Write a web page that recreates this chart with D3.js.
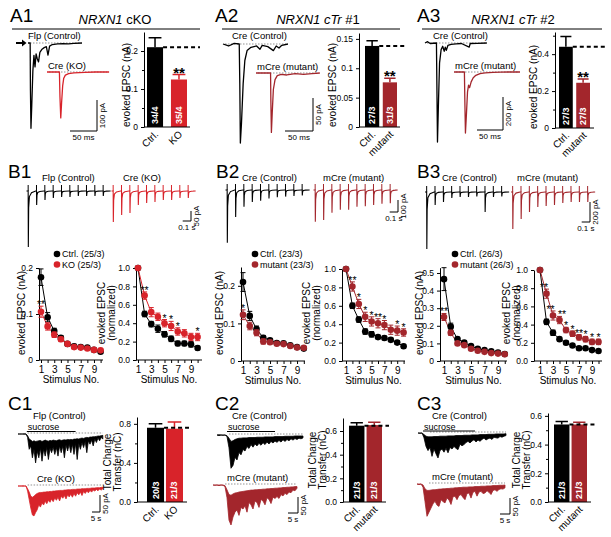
<!DOCTYPE html>
<html>
<head>
<meta charset="utf-8">
<script src="https://cdn.jsdelivr.net/npm/d3@7/dist/d3.min.js"></script>
<style>
  body { margin: 0; background: #fff; }
  svg { font-family: "Liberation Sans", Arial, sans-serif; }
</style>
</head>
<body>
<div id="chart"></div>
<script>
const KO_RED = "#d8232a", MUT_RED = "#a3262c";

// ---- A: single evoked EPSCs, [time ms, current pA]
const a1CtrlTrace = [[0,0],[4,0],[4.5,-150],[5.5,-275],[7,-200],[9,-90],[11,-40],[13,-77],[15,-35],[17,-50],[19.5,-61],[22,-30],[26,-20],[30,-15],[34,-12],[37,-39],[40,-10],[45,-5],[55,-3],[65,-2],[75,-3],[85,-1],[100,0]];
const a1KoTrace = [[0,0],[23,0],[24,-80],[25.5,-148],[27,-100],[29,-45],[31,-20],[34,-10],[40,-5],[50,-3],[70,-1],[90,0],[115,0]];
const a2CtrlTrace = [[0,0],[10,-3],[20,1],[29,0],[30,-60],[31,-150],[33,-120],[36,-60],[39,-25],[43,-10],[50,-5],[60,-3],[66,-8],[70,-2],[80,-4],[90,-10],[95,-3],[100,-6],[105,-2],[116,0]];
const a2MutTrace = [[0,0],[26,0],[26.5,-40],[27.5,-90],[29,-60],[31,-25],[34,-10],[38,-4],[45,-2],[55,-3],[70,-1],[85,-2],[100,-1],[114,0]];
const a3CtrlTrace = [[0,0],[5,8],[10,-3],[22,0],[23,-300],[24,-600],[26,-350],[28,-120],[31,-40],[34,-20],[37,-50],[39,-25],[41,-45],[44,-15],[50,-8],[60,-5],[70,-3],[85,-25],[87,-3],[100,-2],[119,0]];
const a3MutTrace = [[0,0],[20,0],[21,-200],[22,-370],[24,-250],[26,-120],[28,-80],[30,-95],[33,-60],[37,-35],[42,-20],[50,-10],[60,-5],[75,-2],[90,-1],[105,0],[127,0]];

// ---- A: evoked EPSC amplitude (nA)
const a1Groups = ["Ctrl.", "KO"],     a1Means = [0.21, 0.125],  a1Sem = [0.025, 0.013], a1N = ["34/4", "35/4"];
const a2Groups = ["Ctrl.", "mutant"], a2Means = [0.138, 0.076], a2Sem = [0.009, 0.007], a2N = ["27/3", "31/3"];
const a3Groups = ["Ctrl.", "mutant"], a3Means = [0.44, 0.245],  a3Sem = [0.055, 0.02],  a3N = ["27/3", "27/3"];

// ---- B: 10 Hz trains, EPSC amplitude per stimulus (pA)
const b1CtrlAmp = [280, 70, 45, 35, 30, 30, 25, 25, 25, 25];
const b1KoAmp   = [155, 120, 110, 70, 60, 55, 45, 45, 35, 35];
const b2CtrlAmp = [440, 225, 140, 100, 90, 70, 60, 55, 50, 45];
const b2MutAmp  = [265, 250, 190, 165, 165, 140, 135, 125, 115, 110];
const b3CtrlAmp = [570, 130, 100, 60, 50, 50, 45, 200, 50, 45];
const b3MutAmp  = [370, 270, 200, 150, 140, 130, 110, 100, 100, 100];

// ---- B: summary per stimulus number
const stimNo = [1, 2, 3, 4, 5, 6, 7, 8, 9, 10];
const b1Ctrl     = [0.18, 0.093, 0.063, 0.048, 0.035, 0.03, 0.028, 0.027, 0.022, 0.018];
const b1CtrlSem  = [0.018, 0.01, 0.006, 0.005, 0.004, 0.004, 0.004, 0.003, 0.003, 0.003];
const b1Ko       = [0.105, 0.073, 0.055, 0.045, 0.035, 0.028, 0.027, 0.025, 0.022, 0.021];
const b1KoSem    = [0.012, 0.008, 0.006, 0.005, 0.004, 0.004, 0.003, 0.003, 0.003, 0.003];
const b1CtrlN    = [1.0, 0.5, 0.39, 0.34, 0.28, 0.23, 0.18, 0.18, 0.17, 0.13];
const b1CtrlNSem = [0, 0.03, 0.03, 0.04, 0.03, 0.03, 0.025, 0.025, 0.03, 0.02];
const b1KoN      = [1.0, 0.70, 0.52, 0.47, 0.40, 0.37, 0.31, 0.29, 0.25, 0.25];
const b1KoNSem   = [0, 0.04, 0.05, 0.04, 0.04, 0.05, 0.04, 0.04, 0.04, 0.04];

const b2Ctrl     = [0.21, 0.12, 0.085, 0.062, 0.055, 0.048, 0.047, 0.042, 0.037, 0.033];
const b2CtrlSem  = [0.025, 0.012, 0.008, 0.006, 0.005, 0.004, 0.004, 0.004, 0.003, 0.003];
const b2Mut      = [0.123, 0.093, 0.075, 0.052, 0.05, 0.046, 0.045, 0.04, 0.036, 0.035];
const b2MutSem   = [0.013, 0.01, 0.008, 0.007, 0.005, 0.004, 0.004, 0.003, 0.003, 0.003];
const b2CtrlN    = [1.0, 0.6, 0.45, 0.32, 0.29, 0.26, 0.25, 0.23, 0.2, 0.16];
const b2CtrlNSem = [0, 0.03, 0.03, 0.03, 0.03, 0.02, 0.02, 0.02, 0.02, 0.02];
const b2MutN     = [1.0, 0.81, 0.62, 0.48, 0.43, 0.41, 0.39, 0.34, 0.33, 0.31];
const b2MutNSem  = [0, 0.05, 0.05, 0.05, 0.05, 0.05, 0.05, 0.05, 0.05, 0.04];

const b3Ctrl     = [0.465, 0.195, 0.125, 0.105, 0.085, 0.07, 0.062, 0.055, 0.048, 0.04];
const b3CtrlSem  = [0.065, 0.02, 0.01, 0.008, 0.006, 0.005, 0.005, 0.005, 0.004, 0.004];
const b3Mut      = [0.25, 0.16, 0.1, 0.09, 0.07, 0.058, 0.052, 0.045, 0.042, 0.038];
const b3MutSem   = [0.02, 0.015, 0.01, 0.008, 0.007, 0.006, 0.005, 0.005, 0.004, 0.004];
const b3CtrlN    = [1.0, 0.43, 0.31, 0.24, 0.2, 0.17, 0.14, 0.14, 0.12, 0.11];
const b3CtrlNSem = [0, 0.03, 0.03, 0.02, 0.02, 0.02, 0.02, 0.015, 0.015, 0.015];
const b3MutN     = [1.0, 0.74, 0.5, 0.45, 0.34, 0.3, 0.26, 0.24, 0.21, 0.21];
const b3MutNSem  = [0, 0.05, 0.05, 0.04, 0.03, 0.03, 0.03, 0.03, 0.03, 0.03];

// significance marks: [stimulus no., label]
const b1Stars = [[1, "**"]], b1StarsN = [[2, "**"], [5, "*"], [6, "*"], [7, "*"], [10, "*"]];
const b2Stars = [[1, "*"]],  b2StarsN = [[2, "**"], [3, "*"], [4, "*"], [5, "*"], [6, "**"], [7, "*"], [9, "*"], [10, "*"]];
const b3Stars = [[1, "**"]], b3StarsN = [[2, "**"], [3, "**"], [4, "**"], [5, "*"], [6, "*"], [7, "**"], [8, "*"], [9, "*"], [10, "*"]];

// ---- C: sucrose responses, one sample per second, lower / upper edge of the trace (pA)
const c1CtrlLo = [0,0,0,0,-1,0,-10,-45,-35,-70,-45,-85,-50,-70,-42,-80,-45,-65,-40,-75,-42,-55,-38,-60,-40,-65,-35,-55,-35,-70,-32,-50,-30,-55,-30,-60,-28,-75,-28,-45,-25,-40,-22,-55,-20,-30,-18,-35,-15,-25,-12,-20,-10,-15];
const c1CtrlHi = [0,0,0,0,1,0,-5,-15,-18,-22,-20,-22,-21,-20,-19,-22,-20,-18,-20,-21,-19,-20,-18,-19,-20,-18,-17,-19,-18,-17,-18,-16,-17,-16,-17,-15,-15,-14,-15,-13,-12,-13,-11,-10,-11,-9,-9,-8,-8,-7,-6,-6,-5,-4];
const c1KoLo   = [0,0,0,-1,0,0,-15,-40,-65,-85,-88,-78,-70,-55,-62,-50,-56,-45,-52,-42,-48,-38,-46,-35,-42,-33,-44,-30,-36,-28,-38,-26,-32,-24,-33,-22,-30,-20,-26,-18,-28,-16,-22,-15,-20,-13,-18,-12,-15,-10,-14,-9,-12,-8];
const c1KoHi   = [0,0,0,1,0,0,-8,-18,-30,-33,-30,-25,-22,-20,-19,-19,-18,-18,-17,-17,-16,-16,-15,-15,-14,-14,-13,-13,-13,-12,-12,-11,-11,-11,-10,-10,-10,-9,-9,-9,-8,-8,-8,-7,-7,-7,-6,-6,-6,-5,-5,-5,-4,-4];
const c2CtrlLo = [0,-2,0,-1,0,-5,-40,-104,-95,-70,-78,-55,-62,-45,-50,-36,-42,-30,-38,-28,-34,-26,-32,-24,-30,-22,-28,-20,-25,-19,-23,-17,-22,-15,-20,-14,-18,-12,-16,-11,-14,-10,-12,-9];
const c2CtrlHi = [0,1,0,0,0,-2,-10,-20,-18,-14,-12,-10,-10,-9,-9,-9,-8,-8,-8,-8,-7,-7,-7,-7,-6,-6,-6,-6,-6,-5,-5,-5,-5,-5,-4,-4,-4,-4,-4,-3,-3,-3,-3,-3];
const c2MutLo  = [0,-1,0,-2,0,-1,-5,-40,-110,-125,-100,-85,-78,-95,-70,-75,-65,-85,-55,-62,-75,-50,-55,-70,-45,-50,-62,-40,-45,-58,-38,-42,-36,-42,-30,-34,-26,-30,-22,-24,-16,-18,-10];
const c2MutHi  = [0,0,0,0,0,0,-2,-15,-30,-32,-28,-25,-24,-22,-21,-20,-19,-18,-17,-16,-16,-15,-15,-14,-14,-13,-13,-12,-12,-11,-11,-10,-10,-9,-9,-8,-8,-7,-7,-6,-6,-5,-5];
const c3CtrlLo = [0,-1,0,-15,-42,-55,-45,-73,-50,-65,-78,-55,-50,-60,-48,-62,-45,-50,-42,-48,-52,-35,-40,-36,-30,-26,-31,-25,-21,-28,-22,-26,-20,-16,-22,-18,-16,-20,-13,-15,-16,-11,-13,-10,-8];
const c3CtrlHi = [0,0,0,-5,-10,-12,-12,-12,-11,-11,-11,-10,-10,-10,-10,-9,-9,-9,-9,-8,-8,-8,-8,-7,-7,-7,-7,-6,-6,-6,-6,-5,-5,-5,-5,-4,-4,-4,-4,-3,-3,-3,-3,-3,-2];
const c3MutLo  = [0,-2,0,-10,-55,-101,-88,-75,-62,-54,-66,-70,-49,-55,-59,-44,-50,-64,-40,-38,-49,-36,-33,-42,-49,-30,-28,-44,-26,-23,-38,-25,-23,-30,-28,-21,-26,-33,-20,-18,-23,-17,-15,-16,-12];
const c3MutHi  = [0,0,0,-3,-15,-20,-20,-19,-18,-18,-17,-16,-16,-15,-15,-14,-14,-13,-13,-12,-12,-11,-11,-10,-10,-10,-9,-9,-9,-8,-8,-8,-7,-7,-7,-6,-6,-6,-5,-5,-5,-4,-4,-4,-3];
const c1Sucrose = [5.5, 36], c2Sucrose = [5, 29], c3Sucrose = [2.5, 28.5];

// ---- C: total charge transfer (nC)
const c1Groups = ["Ctrl.", "KO"],     c1Means = [0.76, 0.75],  c1Sem = [0.04, 0.07],   c1N = ["20/3", "21/3"];
const c2Groups = ["Ctrl.", "mutant"], c2Means = [0.645, 0.65], c2Sem = [0.025, 0.025], c2N = ["21/3", "21/3"];
const c3Groups = ["Ctrl.", "mutant"], c3Means = [0.54, 0.54],  c3Sem = [0.02, 0.015],  c3N = ["21/3", "21/3"];


const svg = d3.select("#chart").append("svg")
    .attr("width", 611)
    .attr("height", 537);

function addText(x, y, txt, size, opts = {}) {
    const t = svg.append("text")
        .attr("x", x).attr("y", y)
        .attr("font-size", size)
        .text(txt);
    if (opts.anchor) t.attr("text-anchor", opts.anchor);
    if (opts.rotate) t.attr("transform", `rotate(${opts.rotate},${x},${y})`);
    if (opts.fill) t.attr("fill", opts.fill);
    if (opts.weight) t.attr("font-weight", opts.weight);
    return t;
}

function panelTitle(cx, italic, rest, x1, x2) {
    const t = svg.append("text")
        .attr("x", cx).attr("y", 24)
        .attr("text-anchor", "middle")
        .attr("font-size", 13)
        .style("white-space", "pre");
    t.append("tspan").attr("font-style", "italic").text(italic);
    t.append("tspan").text(rest);
    svg.append("line")
        .attr("x1", x1).attr("x2", x2).attr("y1", 29).attr("y2", 29)
        .attr("stroke", "#000").attr("stroke-width", 1);
}

function dotted(x1, x2, y) {
    svg.append("line")
        .attr("x1", x1).attr("x2", x2).attr("y1", y).attr("y2", y)
        .attr("stroke", "#666").attr("stroke-width", 0.7)
        .attr("stroke-dasharray", "1.5,1.5");
}

function scaleBar(cx, cy, w, h, xLab, yLab) {
    svg.append("path")
        .attr("d", `M${cx - w},${cy}H${cx}V${cy - h}`)
        .attr("fill", "none").attr("stroke", "#000").attr("stroke-width", 1);
    addText(cx - w / 2, cy + 9, xLab, 8, {anchor: "middle"});
    addText(cx + 8, cy - h / 2, yLab, 8, {anchor: "middle", rotate: -90});
}

// single EPSC trace: ms on x, pA on y
function epscTrace(pts, x0, pxPerMs, base, pxPerPa, color) {
    const x = d3.scaleLinear().domain([0, 1]).range([x0, x0 + pxPerMs]);
    const y = d3.scaleLinear().domain([0, -1]).range([base, base + pxPerPa]);
    dotted(x0 + 2, x(d3.max(pts, d => d[0])) - 2, base);
    svg.append("path")
        .datum(pts)
        .attr("d", d3.line().x(d => x(d[0])).y(d => y(d[1])))
        .attr("fill", "none")
        .attr("stroke", color)
        .attr("stroke-width", 1.3)
        .attr("stroke-linejoin", "round");
    return {x, y};
}

// 10 Hz train: each stimulus drawn as a fast EPSC of the given amplitude
function trainTrace(amps, x0, base, pxPerPa, color) {
    const x = d3.scaleLinear().domain([0, 1]).range([x0, x0 + 83.3]);
    const y = d3.scaleLinear().domain([0, -1]).range([base, base + pxPerPa]);
    const pts = [[0, 0]];
    amps.forEach((a, i) => {
        const t = 0.02 + i * 0.1;
        pts.push([t, 0], [t + 0.002, -a], [t + 0.006, -a * 0.3], [t + 0.015, -a * 0.1], [t + 0.04, -a * 0.03], [t + 0.09, 0]);
    });
    pts.push([0.98, 0]);
    svg.append("path")
        .datum(pts)
        .attr("d", d3.line().x(d => x(d[0])).y(d => y(d[1])))
        .attr("fill", "none")
        .attr("stroke", color)
        .attr("stroke-width", 1.1);
    svg.selectAll(null).data(amps).join("line")
        .attr("x1", (d, i) => x(0.02 + i * 0.1))
        .attr("x2", (d, i) => x(0.02 + i * 0.1))
        .attr("y1", base - 6).attr("y2", base)
        .attr("stroke", color).attr("stroke-width", 1);
}

// sucrose response: filled band between upper and lower edge
function sucroseTrace(lo, hi, x0, pxPerS, base, pxPerPa, color) {
    const x = d3.scaleLinear().domain([0, 1]).range([x0, x0 + pxPerS]);
    const y = d3.scaleLinear().domain([0, -1]).range([base, base + pxPerPa]);
    dotted(x(6), x(lo.length - 1), base - 1);
    svg.append("path")
        .datum(lo)
        .attr("d", d3.area().x((d, i) => x(i)).y0((d, i) => y(hi[i])).y1(d => y(d)))
        .attr("fill", color)
        .attr("stroke", color)
        .attr("stroke-width", 0.8)
        .attr("stroke-linejoin", "round");
    return x;
}

function styleAxis(g, size) {
    g.attr("font-family", null).attr("font-size", size);
    g.selectAll("line, path").attr("stroke-width", 1);
}

function yLabel(lines, cx, cy) {
    lines.forEach((l, i) => addText(cx + 3.5 + i * 10, cy, l, 10, {anchor: "middle", rotate: -90}));
}

function barPanel(c) {
    const y = d3.scaleLinear().domain([0, c.yMax]).range([c.y0, c.yTop]);
    const x = d3.scaleBand().domain(c.groups).range(c.band).paddingInner(c.pad).paddingOuter(0);
    const colors = [ "#000", c.color ];

    svg.selectAll(null).data(c.means).join("rect")
        .attr("x", (d, i) => x(c.groups[i]))
        .attr("y", d => y(d))
        .attr("width", x.bandwidth())
        .attr("height", d => c.y0 - y(d))
        .attr("fill", (d, i) => colors[i]);

    // upward error bars
    c.means.forEach((m, i) => {
        const cx = x(c.groups[i]) + x.bandwidth() / 2;
        const top = y(m + c.sem[i]);
        svg.append("path")
            .attr("d", `M${cx},${y(m)}V${top}M${cx - x.bandwidth() * 0.4},${top}H${cx + x.bandwidth() * 0.4}`)
            .attr("stroke", colors[i]).attr("stroke-width", 1.5).attr("fill", "none");
    });

    // control level
    svg.append("line")
        .attr("x1", x(c.groups[0]) + x.bandwidth()).attr("x2", c.dashEnd)
        .attr("y1", y(c.means[0])).attr("y2", y(c.means[0]))
        .attr("stroke", "#000").attr("stroke-width", 2).attr("stroke-dasharray", "4,3");

    // n labels inside bars
    c.n.forEach((s, i) => {
        const cx = x(c.groups[i]) + x.bandwidth() / 2 + 3;
        addText(cx, c.y0 - 3, s, 9, {rotate: -90, fill: "#fff", weight: "bold"});
    });

    const ax = svg.append("g")
        .attr("transform", `translate(${c.axisX},0)`)
        .call(d3.axisLeft(y).tickValues(c.ticks).tickFormat(c.fmt).tickSize(3).tickSizeOuter(0));
    styleAxis(ax, 8.5);
    if (c.minor) {
        const mn = svg.append("g")
            .attr("transform", `translate(${c.axisX},0)`)
            .call(d3.axisLeft(y).tickValues(c.minor).tickFormat("").tickSize(2).tickSizeOuter(0));
        mn.select(".domain").remove();
    }
    svg.append("line")
        .attr("x1", c.axisX).attr("x2", c.xEnd).attr("y1", c.y0).attr("y2", c.y0)
        .attr("stroke", "#000").attr("stroke-width", 1);

    c.groups.forEach(gname => {
        const cx = x(gname) + x.bandwidth() / 2 + 4;
        addText(cx, c.y0 + 8, gname, 10, {anchor: "end", rotate: -45});
    });

    if (c.stars) {
        const cx = x(c.groups[1]) + x.bandwidth() / 2;
        addText(cx, y(c.means[1] + c.sem[1]) + 3, c.stars, 15, {anchor: "middle", weight: "bold"});
    }
    yLabel(c.label, c.labelX, c.labelY);
}

function linePlot(c) {
    const x = d3.scaleLinear().domain([1, 10]).range(c.xRange);
    const y = d3.scaleLinear().domain([0, c.yMax]).range([c.y0, c.yTop]);

    const ax = svg.append("g")
        .attr("transform", `translate(${c.axisX},0)`)
        .call(d3.axisLeft(y).tickValues(c.ticks).tickFormat(c.fmt).tickSize(3).tickSizeOuter(0));
    styleAxis(ax, 8.5);
    const bx = svg.append("g")
        .attr("transform", `translate(0,${c.y0})`)
        .call(d3.axisBottom(x).tickValues(stimNo).tickFormat(d => d % 2 ? d : "").tickSize(3).tickSizeOuter(0));
    styleAxis(bx, 10);
    bx.select(".domain").remove();
    svg.append("line")
        .attr("x1", c.axisX).attr("x2", c.xEnd).attr("y1", c.y0).attr("y2", c.y0)
        .attr("stroke", "#000").attr("stroke-width", 1);
    addText((c.axisX + c.xEnd) / 2, c.y0 + 23, "Stimulus No.", 10, {anchor: "middle"});

    const series = [
        {v: c.ctrl, e: c.ctrlSem, col: "#000"},
        {v: c.mut, e: c.mutSem, col: c.color}
    ];
    series.forEach(s => {
        svg.append("path")
            .datum(s.v)
            .attr("d", d3.line().x((d, i) => x(stimNo[i])).y(d => y(d)))
            .attr("fill", "none").attr("stroke", s.col).attr("stroke-width", 1);
    });
    series.forEach(s => {
        s.v.forEach((v, i) => {
            if (!s.e[i]) return;
            const cx = x(stimNo[i]);
            svg.append("path")
                .attr("d", `M${cx},${y(v - s.e[i])}V${y(v + s.e[i])}M${cx - 2.5},${y(v - s.e[i])}H${cx + 2.5}M${cx - 2.5},${y(v + s.e[i])}H${cx + 2.5}`)
                .attr("stroke", s.col).attr("stroke-width", 1).attr("fill", "none");
        });
        svg.selectAll(null).data(s.v).join("circle")
            .attr("cx", (d, i) => x(stimNo[i]))
            .attr("cy", d => y(d))
            .attr("r", 3.3)
            .attr("fill", s.col);
    });

    // stars above the mutant error bar; neighbouring double stars are pushed apart a little
    c.stars.forEach(([n, s], k) => {
        const i = n - 1;
        const prev = c.stars[k - 1], next = c.stars[k + 1];
        let dx = 0;
        if (s.length > 1 && next && next[0] === n + 1 && next[1].length > 1) dx = -2.5;
        else if (s.length > 1 && prev && prev[0] === n - 1 && prev[1].length > 1) dx = 2.5;
        addText(x(n) + dx, y(c.mut[i] + c.mutSem[i]) + 2, s, 10.5, {anchor: "middle"});
    });
    yLabel(c.label, c.labelX, c.labelY);
}

function legend(x0, ctrlTxt, mutTxt, color) {
    [[ctrlTxt, "#000", 254], [mutTxt, color, 264.5]].forEach(([t, col, yy]) => {
        svg.append("circle").attr("cx", x0).attr("cy", yy).attr("r", 3.3).attr("fill", col);
        addText(x0 + 5, yy + 3.3, t, 9);
    });
}

const tick0 = f => d => d === 0 ? "0" : d3.format(f)(d);

// ================= Row A =================
addText(10, 22, "A1", 19);
addText(215, 22, "A2", 19);
addText(417, 22, "A3", 19);
panelTitle(115, "NRXN1", " cKO", 12, 200);
panelTitle(318, "NRXN1 cTr", " #1", 222, 400);
panelTitle(513, "NRXN1 cTr", " #2", 422, 602);

svg.append("path").attr("d", "M16,42H22V39.5L26.5,43L22,46.5V44H16Z").attr("fill", "#000");
addText(28, 39, "Flp (Control)", 9.5);
epscTrace(a1CtrlTrace, 28, 0.54, 43, 0.31, "#000");
addText(48, 69, "Cre (KO)", 9.5);
epscTrace(a1KoTrace, 47, 0.54, 72, 0.31, KO_RED);
scaleBar(97, 131, 50 * 0.54, 100 * 0.31, "50 ms", "100 pA");

addText(232, 39, "Cre (Control)", 9.5);
epscTrace(a2CtrlTrace, 223, 0.56, 44, 0.66, "#000");
addText(257, 70, "mCre (mutant)", 9.5);
epscTrace(a2MutTrace, 256, 0.56, 73, 0.66, MUT_RED);
scaleBar(313, 131, 50 * 0.56, 50 * 0.66, "50 ms", "50 pA");

addText(433, 39, "Cre (Control)", 9.5);
epscTrace(a3CtrlTrace, 425, 0.52, 43, 0.165, "#000");
addText(455, 69, "mCre (mutant)", 9.5);
epscTrace(a3MutTrace, 454, 0.52, 72, 0.165, MUT_RED);
scaleBar(503, 130, 50 * 0.52, 200 * 0.165, "50 ms", "200 pA");

barPanel({groups: a1Groups, means: a1Means, sem: a1Sem, n: a1N, color: KO_RED, stars: "**",
    axisX: 144, y0: 127, yTop: 32, yMax: 0.25, ticks: [0, 0.1, 0.2], minor: [0.05, 0.15], fmt: tick0(".1f"),
    band: [147, 187], pad: 0.33, xEnd: 190, dashEnd: 200, label: ["evoked EPSC (nA)"], labelX: 126, labelY: 85});
barPanel({groups: a2Groups, means: a2Means, sem: a2Sem, n: a2N, color: MUT_RED, stars: "**",
    axisX: 359, y0: 127, yTop: 33, yMax: 0.16, ticks: [0, 0.05, 0.1, 0.15], fmt: tick0(".2~f"),
    band: [365, 397], pad: 0.2, xEnd: 400, dashEnd: 406, label: ["evoked EPSC (nA)"], labelX: 332, labelY: 85});
barPanel({groups: a3Groups, means: a3Means, sem: a3Sem, n: a3N, color: MUT_RED, stars: "**",
    axisX: 555, y0: 128, yTop: 32, yMax: 0.52, ticks: [0, 0.2, 0.4], minor: [0.1, 0.3, 0.5], fmt: tick0(".1f"),
    band: [559, 590], pad: 0.2, xEnd: 594, dashEnd: 606, label: ["evoked EPSC (nA)"], labelX: 533, labelY: 87});

// ================= Row B =================
addText(8, 178, "B1", 19);
addText(216, 178, "B2", 19);
addText(417, 178, "B3", 19);

addText(42, 181, "Flp (Control)", 9.5);
trainTrace(b1CtrlAmp, 26.5, 191, 0.2, "#000");
addText(123, 181, "Cre (KO)", 9.5);
trainTrace(b1KoAmp, 111.5, 191, 0.2, KO_RED);
scaleBar(191, 221, 8.3, 50 * 0.2, "0.1 s", "50 pA");

addText(242, 181, "Cre (Control)", 9.5);
trainTrace(b2CtrlAmp, 225.5, 190, 0.12, "#000");
addText(323, 181, "mCre (mutant)", 9.5);
trainTrace(b2MutAmp, 313.5, 190, 0.12, MUT_RED);
scaleBar(398, 212, 8.3, 100 * 0.12, "0.1 s", "100 pA");

addText(442, 181, "Cre (Control)", 9.5);
trainTrace(b3CtrlAmp, 425, 192, 0.1, "#000");
addText(517, 181, "mCre (mutant)", 9.5);
trainTrace(b3MutAmp, 511, 192, 0.1, MUT_RED);
scaleBar(590, 222, 8.3, 200 * 0.1, "0.1 s", "200 pA");

legend(57, "Ctrl. (25/3)", "KO (25/3)", KO_RED);
legend(255, "Ctrl. (23/3)", "mutant (23/3)", MUT_RED);
legend(455, "Ctrl. (26/3)", "mutant (26/3)", MUT_RED);

linePlot({ctrl: b1Ctrl, ctrlSem: b1CtrlSem, mut: b1Ko, mutSem: b1KoSem, color: KO_RED, stars: b1Stars,
    axisX: 39, xEnd: 103, xRange: [41, 100.6], y0: 360, yTop: 268, yMax: 0.2, ticks: [0, 0.1, 0.2], fmt: tick0(".1f"),
    label: ["evoked EPSC (nA)"], labelX: 21, labelY: 313});
linePlot({ctrl: b1CtrlN, ctrlSem: b1CtrlNSem, mut: b1KoN, mutSem: b1KoNSem, color: KO_RED, stars: b1StarsN,
    axisX: 136, xEnd: 202, xRange: [138, 197.6], y0: 360, yTop: 268, yMax: 1, ticks: [0, 0.2, 0.4, 0.6, 0.8, 1], fmt: d3.format(".1f"),
    label: ["evoked EPSC", "(normalized)"], labelX: 101, labelY: 313});
linePlot({ctrl: b2Ctrl, ctrlSem: b2CtrlSem, mut: b2Mut, mutSem: b2MutSem, color: MUT_RED, stars: b2Stars,
    axisX: 241, xEnd: 305, xRange: [243, 303.8], y0: 361, yTop: 267, yMax: 0.25, ticks: [0, 0.1, 0.2], fmt: tick0(".1f"),
    label: ["evoked EPSC (nA)"], labelX: 219, labelY: 313});
linePlot({ctrl: b2CtrlN, ctrlSem: b2CtrlNSem, mut: b2MutN, mutSem: b2MutNSem, color: MUT_RED, stars: b2StarsN,
    axisX: 342, xEnd: 405, xRange: [346, 403.6], y0: 361, yTop: 269, yMax: 1, ticks: [0, 0.2, 0.4, 0.6, 0.8, 1], fmt: d3.format(".1f"),
    label: ["evoked EPSC", "(normalized)"], labelX: 306, labelY: 313});
linePlot({ctrl: b3Ctrl, ctrlSem: b3CtrlSem, mut: b3Mut, mutSem: b3MutSem, color: MUT_RED, stars: b3Stars,
    axisX: 440, xEnd: 507, xRange: [444, 504.75], y0: 361, yTop: 267.7, yMax: 0.53, ticks: [0, 0.1, 0.2, 0.3, 0.4, 0.5], fmt: tick0(".1f"),
    label: ["evoked EPSC (nA)"], labelX: 419, labelY: 313});
linePlot({ctrl: b3CtrlN, ctrlSem: b3CtrlNSem, mut: b3MutN, mutSem: b3MutNSem, color: MUT_RED, stars: b3StarsN,
    axisX: 534, xEnd: 602, xRange: [540, 598.5], y0: 361, yTop: 270, yMax: 1, ticks: [0, 0.2, 0.4, 0.6, 0.8, 1], fmt: d3.format(".1f"),
    label: ["evoked EPSC", "(normalized)"], labelX: 506, labelY: 313});

// ================= Row C =================
addText(8, 410, "C1", 19);
addText(215, 410, "C2", 19);
addText(417, 410, "C3", 19);

function sucroseBar(xs, range, y) {
    svg.append("line").attr("x1", xs(range[0])).attr("x2", xs(range[1]))
        .attr("y1", y).attr("y2", y).attr("stroke", "#000").attr("stroke-width", 1);
    addText(xs(range[0]) + 1, y - 1.5, "sucrose", 9);
}

addText(33, 419, "Flp (Control)", 9.5);
let xs = sucroseTrace(c1CtrlLo, c1CtrlHi, 18, 1.6, 434, 0.34, "#000");
sucroseBar(xs, c1Sucrose, 431.5);
addText(37, 482, "Cre (KO)", 9.5);
sucroseTrace(c1KoLo, c1KoHi, 18, 1.6, 486, 0.34, KO_RED);
scaleBar(100, 512, 5 * 1.6, 50 * 0.34, "5 s", "50 pA");

addText(232, 419, "Cre (Control)", 9.5);
xs = sucroseTrace(c2CtrlLo, c2CtrlHi, 217, 2, 435, 0.32, "#000");
sucroseBar(xs, c2Sucrose, 431.5);
addText(227, 481, "mCre (mutant)", 9.5);
sucroseTrace(c2MutLo, c2MutHi, 213, 2, 485, 0.32, MUT_RED);
scaleBar(298, 513, 5 * 2, 50 * 0.32, "5 s", "50 pA");

addText(432, 419, "Cre (Control)", 9.5);
xs = sucroseTrace(c3CtrlLo, c3CtrlHi, 418, 2, 433, 0.32, "#000");
sucroseBar(xs, c3Sucrose, 431);
addText(432, 480, "mCre (mutant)", 9.5);
sucroseTrace(c3MutLo, c3MutHi, 417, 2, 484, 0.32, MUT_RED);
scaleBar(510, 514, 5 * 2, 50 * 0.32, "5 s", "50 pA");

barPanel({groups: c1Groups, means: c1Means, sem: c1Sem, n: c1N, color: KO_RED,
    axisX: 137, y0: 502, yTop: 417, yMax: 0.87, ticks: [0, 0.4, 0.8], minor: [0.2, 0.6], fmt: d3.format(".1f"),
    band: [147, 183], pad: 0.1, xEnd: 187, dashEnd: 189, label: ["Total Charge", "Transfer (nC)"], labelX: 107, labelY: 462});
barPanel({groups: c2Groups, means: c2Means, sem: c2Sem, n: c2N, color: MUT_RED,
    axisX: 343, y0: 502, yTop: 418, yMax: 0.71, ticks: [0, 0.2, 0.4, 0.6], minor: [0.1, 0.3, 0.5], fmt: d3.format(".1f"),
    band: [349, 382], pad: 0.12, xEnd: 386, dashEnd: 389, label: ["Total Charge", "Transfer (nC)"], labelX: 312, labelY: 460});
barPanel({groups: c3Groups, means: c3Means, sem: c3Sem, n: c3N, color: MUT_RED,
    axisX: 548, y0: 502, yTop: 413, yMax: 0.62, ticks: [0, 0.2, 0.4, 0.6], minor: [0.1, 0.3, 0.5], fmt: d3.format(".1f"),
    band: [554, 587], pad: 0.12, xEnd: 591, dashEnd: 596, label: ["Total Charge", "Transfer (nC)"], labelX: 516, labelY: 460});
</script>
</body>
</html>
